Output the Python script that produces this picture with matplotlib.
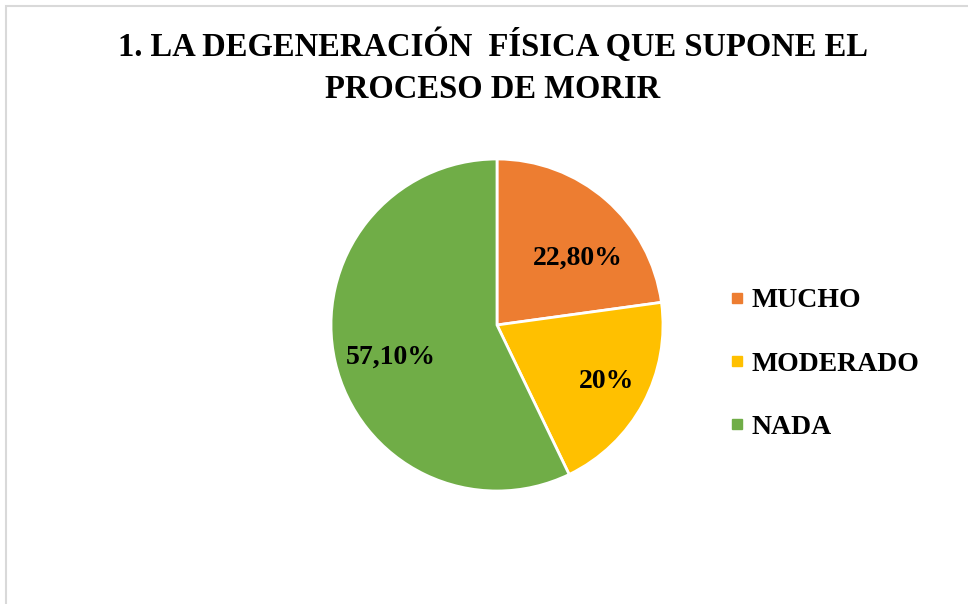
import matplotlib.pyplot as plt
from matplotlib.lines import Line2D
from matplotlib.patches import Rectangle
import numpy as np

categories = ["MUCHO", "MODERADO", "NADA"]
values = [22.8, 20.0, 57.1]
value_labels = ["22,80%", "20%", "57,10%"]
colours = ["#ED7D31", "#FFC000", "#70AD47"]

plt.rcParams['font.family'] = ['Liberation Serif', 'DejaVu Serif']

fig = plt.figure(figsize=(9.68, 6.04), dpi=100)
W, H = 968, 604

# light grey chart frame (only top and left edges visible in the crop)
fig.patches.append(Rectangle((6 / W, -0.1), 1.2, 1 - 6 / H + 0.1, transform=fig.transFigure,
                             fill=False, edgecolor="#D9D9D9", linewidth=1.5))

fig.text(493 / W, 1 - 46 / H, "1. LA DEGENERACIÓN  FÍSICA QUE SUPONE EL",
         ha="center", va="center", fontsize=23.5, fontweight="bold")
fig.text(493 / W, 1 - 89 / H, "PROCESO DE MORIR",
         ha="center", va="center", fontsize=23.5, fontweight="bold")

cx, cy, r = 497, 325, 166
ax = fig.add_axes([(cx - r) / W, (H - cy - r) / H, 2 * r / W, 2 * r / H])
wedges, _ = ax.pie(values, colors=colours, startangle=90, counterclock=False,
                   wedgeprops=dict(edgecolor="white", linewidth=2))
ax.set_xlim(-1, 1)
ax.set_ylim(-1, 1)

# label placement (radius and angle nudges like Excel's best fit)
label_r = [0.63, 0.74, 0.67]
label_shift = [-9.5, 1.0, 4.0]
for w, txt, lr, sh in zip(wedges, value_labels, label_r, label_shift):
    ang = np.deg2rad((w.theta1 + w.theta2) / 2 + sh)
    ax.text(lr * np.cos(ang), lr * np.sin(ang), txt, ha="center", va="center",
            fontsize=20, fontweight="bold")

handles = [Line2D([], [], marker="s", linestyle="none", markersize=7.5,
                  markerfacecolor=c, markeredgecolor=c) for c in colours]
fig.legend(handles, categories, loc="center left", bbox_to_anchor=(715 / W, 1 - 364 / H),
           frameon=False, prop=dict(size=20, weight="bold"), labelspacing=1.36,
           handlelength=0.6, handletextpad=0.2, borderpad=0)

fig.savefig("out.png", dpi=100)
